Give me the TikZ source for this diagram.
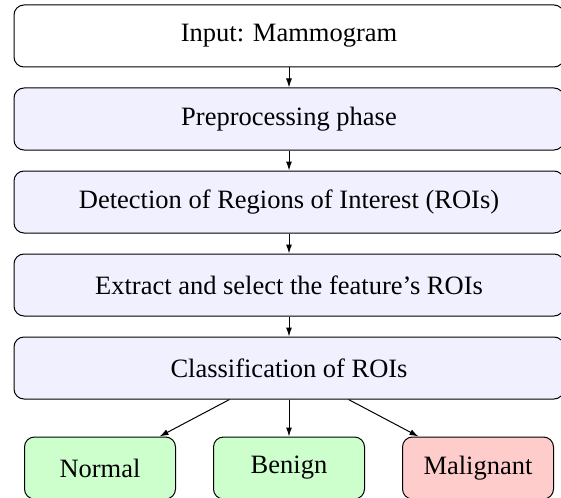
\documentclass[tikz,border=0pt]{standalone}
\usepackage{fontspec}
\setmainfont{Liberation Serif}
\usetikzlibrary{arrows.meta}
\definecolor{stepfill}{RGB}{240,240,255}
\definecolor{okfill}{RGB}{204,255,204}
\definecolor{badfill}{RGB}{255,204,204}
\begin{document}
\begin{tikzpicture}[x=1pt,y=-1pt,
  every node/.style={font=\fontsize{26.5}{32}\selectfont},
  stage/.style={draw=black, line width=1pt, rounded corners=10pt,
    minimum width=550pt, minimum height=62pt, inner sep=0pt},
  outcome/.style={draw=black, line width=1pt, rounded corners=10pt,
    minimum width=151pt, minimum height=62pt, inner sep=0pt},
  link/.style={line width=1pt, -{Latex[length=9pt,width=6pt]}}]
  \useasboundingbox (0,0) rectangle (561,497);
  \clip (0,0) rectangle (561,497);

  \node[stage, fill=white]    (input)   at (289,36)  {Input: Mammogram};
  \node[stage, fill=stepfill] (prep)    at (289,119) {Preprocessing phase};
  \node[stage, fill=stepfill] (detect)  at (289,202) {Detection of Regions of Interest (ROIs)};
  \node[stage, fill=stepfill] (extract) at (289,285) {Extract and select the feature’s ROIs};
  \node[stage, fill=stepfill] (classif) at (289,368) {Classification of ROIs};

  \node[outcome, fill=okfill]  (normal)    at (100,468) {Normal};
  \node[outcome, fill=okfill]  (benign)    at (289,468) {Benign};
  \node[outcome, fill=badfill] (malignant) at (478,468) {Malignant};

  \draw[link] (input)   -- (prep);
  \draw[link] (prep)    -- (detect);
  \draw[link] (detect)  -- (extract);
  \draw[link] (extract) -- (classif);
  \draw[link] (classif) -- (normal);
  \draw[link] (classif) -- (benign);
  \draw[link] (classif) -- (malignant);
\end{tikzpicture}
\end{document}
